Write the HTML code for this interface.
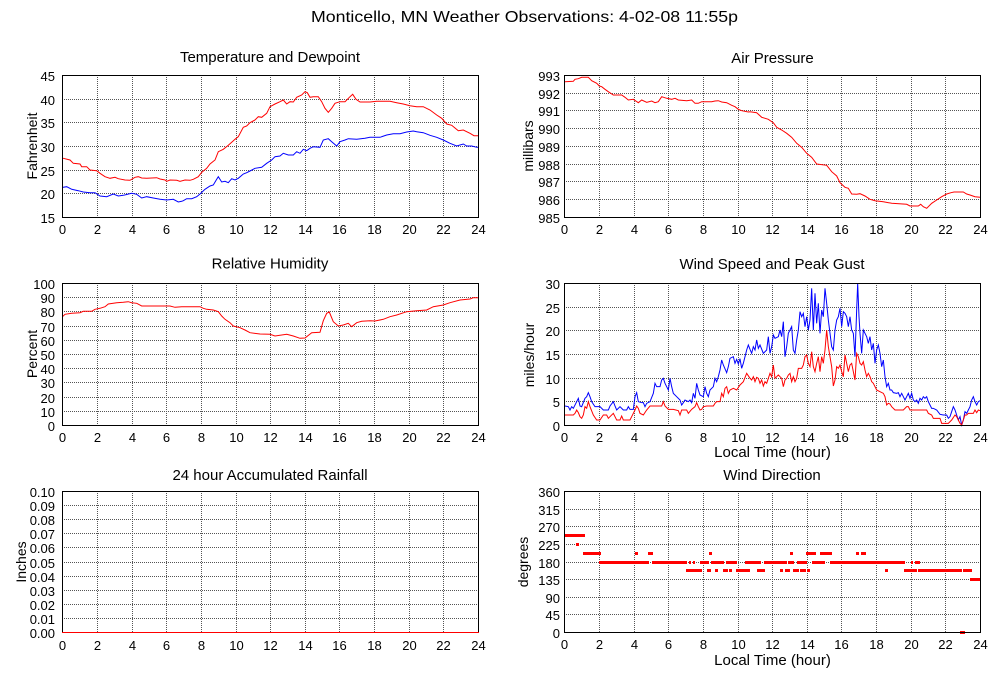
<!DOCTYPE html>
<html><head><meta charset="utf-8"><style>
html,body{margin:0;padding:0;background:#fff;width:1000px;height:680px;overflow:hidden}
svg{display:block}
text{font-family:"Liberation Sans",Arial,Helvetica,sans-serif;fill:#000}
.g{fill:none;stroke:#555;stroke-width:1;stroke-dasharray:1 1;shape-rendering:crispEdges}
.f{fill:none;stroke:#000;stroke-width:1;shape-rendering:crispEdges}
.yl{font-size:13px;text-anchor:end}
.xl{font-size:13px;text-anchor:middle}
.pt{font-size:15px;text-anchor:middle}
.al{font-size:14px;text-anchor:middle}
.r{fill:none;stroke:#f00;stroke-width:1}
.b{fill:none;stroke:#00f;stroke-width:1}
</style></head><body>
<svg width="1000" height="680" viewBox="0 0 1000 680" xmlns="http://www.w3.org/2000/svg">
<rect width="1000" height="680" fill="#fff"/>
<text x="524.5" y="22" font-size="16" text-anchor="middle" textLength="427" lengthAdjust="spacingAndGlyphs">Monticello, MN Weather Observations: 4-02-08 11:55p</text>

<text class="pt" x="270" y="62">Temperature and Dewpoint</text>
<text class="pt" x="772.5" y="63">Air Pressure</text>
<text class="pt" x="270" y="268.5">Relative Humidity</text>
<text class="pt" x="772" y="269">Wind Speed and Peak Gust</text>
<text class="pt" x="270" y="480">24 hour Accumulated Rainfall</text>
<text class="pt" x="772" y="480">Wind Direction</text>

<text class="al" transform="translate(37,146) rotate(-90)">Fahrenheit</text>
<text class="al" transform="translate(533,146) rotate(-90)">millibars</text>
<text class="al" transform="translate(37,354) rotate(-90)">Percent</text>
<text class="al" transform="translate(534,355) rotate(-90)">miles/hour</text>
<text class="al" transform="translate(26,562) rotate(-90)">Inches</text>
<text class="al" transform="translate(528,562) rotate(-90)">degrees</text>
<text x="772.5" y="457" font-size="15" text-anchor="middle">Local Time (hour)</text>
<text x="772.5" y="665" font-size="15" text-anchor="middle">Local Time (hour)</text>

<path class="g" d="M97.5 75V217M132.5 75V217M166.5 75V217M201.5 75V217M236.5 75V217M270.5 75V217M305.5 75V217M339.5 75V217M374.5 75V217M409.5 75V217M443.5 75V217M62 99.5H478M62 122.5H478M62 146.5H478M62 170.5H478M62 193.5H478"/>
<path class="g" d="M599.5 75V217M634.5 75V217M668.5 75V217M703.5 75V217M738.5 75V217M772.5 75V217M807.5 75V217M841.5 75V217M876.5 75V217M911.5 75V217M945.5 75V217M564 93.5H980M564 110.5H980M564 128.5H980M564 146.5H980M564 164.5H980M564 181.5H980M564 199.5H980"/>
<path class="g" d="M97.5 283V425M132.5 283V425M166.5 283V425M201.5 283V425M236.5 283V425M270.5 283V425M305.5 283V425M339.5 283V425M374.5 283V425M409.5 283V425M443.5 283V425M62 297.5H478M62 311.5H478M62 326.5H478M62 340.5H478M62 354.5H478M62 368.5H478M62 382.5H478M62 397.5H478M62 411.5H478"/>
<path class="g" d="M599.5 283V425M634.5 283V425M668.5 283V425M703.5 283V425M738.5 283V425M772.5 283V425M807.5 283V425M841.5 283V425M876.5 283V425M911.5 283V425M945.5 283V425M564 307.5H980M564 330.5H980M564 354.5H980M564 378.5H980M564 401.5H980"/>
<path class="g" d="M97.5 491V632M132.5 491V632M166.5 491V632M201.5 491V632M236.5 491V632M270.5 491V632M305.5 491V632M339.5 491V632M374.5 491V632M409.5 491V632M443.5 491V632M62 505.5H478M62 519.5H478M62 533.5H478M62 547.5H478M62 562.5H478M62 576.5H478M62 590.5H478M62 604.5H478M62 618.5H478"/>
<path class="g" d="M599.5 491V632M634.5 491V632M668.5 491V632M703.5 491V632M738.5 491V632M772.5 491V632M807.5 491V632M841.5 491V632M876.5 491V632M911.5 491V632M945.5 491V632M564 509.5H980M564 526.5H980M564 544.5H980M564 562.5H980M564 579.5H980M564 597.5H980M564 614.5H980"/>

<g>
<text class="yl" x="55" y="81">45</text><text class="yl" x="55" y="105">40</text><text class="yl" x="55" y="128">35</text><text class="yl" x="55" y="152">30</text><text class="yl" x="55" y="176">25</text><text class="yl" x="55" y="199">20</text><text class="yl" x="55" y="223">15</text>
<text class="yl" x="560" y="81">993</text><text class="yl" x="560" y="99">992</text><text class="yl" x="560" y="116">991</text><text class="yl" x="560" y="134">990</text><text class="yl" x="560" y="152">989</text><text class="yl" x="560" y="170">988</text><text class="yl" x="560" y="187">987</text><text class="yl" x="560" y="205">986</text><text class="yl" x="560" y="223">985</text>
<text class="yl" x="55" y="289">100</text><text class="yl" x="55" y="303">90</text><text class="yl" x="55" y="317">80</text><text class="yl" x="55" y="332">70</text><text class="yl" x="55" y="346">60</text><text class="yl" x="55" y="360">50</text><text class="yl" x="55" y="374">40</text><text class="yl" x="55" y="388">30</text><text class="yl" x="55" y="403">20</text><text class="yl" x="55" y="417">10</text><text class="yl" x="55" y="431">0</text>
<text class="yl" x="560" y="289">30</text><text class="yl" x="560" y="313">25</text><text class="yl" x="560" y="336">20</text><text class="yl" x="560" y="360">15</text><text class="yl" x="560" y="384">10</text><text class="yl" x="560" y="407">5</text><text class="yl" x="560" y="431">0</text>
<text class="yl" x="55" y="497">0.10</text><text class="yl" x="55" y="511">0.09</text><text class="yl" x="55" y="525">0.08</text><text class="yl" x="55" y="539">0.07</text><text class="yl" x="55" y="553">0.06</text><text class="yl" x="55" y="568">0.05</text><text class="yl" x="55" y="582">0.04</text><text class="yl" x="55" y="596">0.03</text><text class="yl" x="55" y="610">0.02</text><text class="yl" x="55" y="624">0.01</text><text class="yl" x="55" y="638">0.00</text>
<text class="yl" x="560" y="497">360</text><text class="yl" x="560" y="515">315</text><text class="yl" x="560" y="532">270</text><text class="yl" x="560" y="550">225</text><text class="yl" x="560" y="568">180</text><text class="yl" x="560" y="585">135</text><text class="yl" x="560" y="603">90</text><text class="yl" x="560" y="620">45</text><text class="yl" x="560" y="638">0</text>
</g>

<g>
<text class="xl" x="62.5" y="234">0</text><text class="xl" x="97.5" y="234">2</text><text class="xl" x="132.5" y="234">4</text><text class="xl" x="166.5" y="234">6</text><text class="xl" x="201.5" y="234">8</text><text class="xl" x="236.5" y="234">10</text><text class="xl" x="270.5" y="234">12</text><text class="xl" x="305.5" y="234">14</text><text class="xl" x="339.5" y="234">16</text><text class="xl" x="374.5" y="234">18</text><text class="xl" x="409.5" y="234">20</text><text class="xl" x="443.5" y="234">22</text><text class="xl" x="478.5" y="234">24</text>
</g>
<g transform="translate(502,0)">
<text class="xl" x="62.5" y="234">0</text><text class="xl" x="97.5" y="234">2</text><text class="xl" x="132.5" y="234">4</text><text class="xl" x="166.5" y="234">6</text><text class="xl" x="201.5" y="234">8</text><text class="xl" x="236.5" y="234">10</text><text class="xl" x="270.5" y="234">12</text><text class="xl" x="305.5" y="234">14</text><text class="xl" x="339.5" y="234">16</text><text class="xl" x="374.5" y="234">18</text><text class="xl" x="409.5" y="234">20</text><text class="xl" x="443.5" y="234">22</text><text class="xl" x="478.5" y="234">24</text>
</g>
<g transform="translate(0,208)">
<text class="xl" x="62.5" y="234">0</text><text class="xl" x="97.5" y="234">2</text><text class="xl" x="132.5" y="234">4</text><text class="xl" x="166.5" y="234">6</text><text class="xl" x="201.5" y="234">8</text><text class="xl" x="236.5" y="234">10</text><text class="xl" x="270.5" y="234">12</text><text class="xl" x="305.5" y="234">14</text><text class="xl" x="339.5" y="234">16</text><text class="xl" x="374.5" y="234">18</text><text class="xl" x="409.5" y="234">20</text><text class="xl" x="443.5" y="234">22</text><text class="xl" x="478.5" y="234">24</text>
</g>
<g transform="translate(502,208)">
<text class="xl" x="62.5" y="234">0</text><text class="xl" x="97.5" y="234">2</text><text class="xl" x="132.5" y="234">4</text><text class="xl" x="166.5" y="234">6</text><text class="xl" x="201.5" y="234">8</text><text class="xl" x="236.5" y="234">10</text><text class="xl" x="270.5" y="234">12</text><text class="xl" x="305.5" y="234">14</text><text class="xl" x="339.5" y="234">16</text><text class="xl" x="374.5" y="234">18</text><text class="xl" x="409.5" y="234">20</text><text class="xl" x="443.5" y="234">22</text><text class="xl" x="478.5" y="234">24</text>
</g>
<g transform="translate(0,416)">
<text class="xl" x="62.5" y="234">0</text><text class="xl" x="97.5" y="234">2</text><text class="xl" x="132.5" y="234">4</text><text class="xl" x="166.5" y="234">6</text><text class="xl" x="201.5" y="234">8</text><text class="xl" x="236.5" y="234">10</text><text class="xl" x="270.5" y="234">12</text><text class="xl" x="305.5" y="234">14</text><text class="xl" x="339.5" y="234">16</text><text class="xl" x="374.5" y="234">18</text><text class="xl" x="409.5" y="234">20</text><text class="xl" x="443.5" y="234">22</text><text class="xl" x="478.5" y="234">24</text>
</g>
<g transform="translate(502,415)">
<text class="xl" x="62.5" y="234">0</text><text class="xl" x="97.5" y="234">2</text><text class="xl" x="132.5" y="234">4</text><text class="xl" x="166.5" y="234">6</text><text class="xl" x="201.5" y="234">8</text><text class="xl" x="236.5" y="234">10</text><text class="xl" x="270.5" y="234">12</text><text class="xl" x="305.5" y="234">14</text><text class="xl" x="339.5" y="234">16</text><text class="xl" x="374.5" y="234">18</text><text class="xl" x="409.5" y="234">20</text><text class="xl" x="443.5" y="234">22</text><text class="xl" x="478.5" y="234">24</text>
</g>

<polyline class="r" points="62.5,158 63.3,158.3 70,160 73.3,163.3 80,164 81.7,166.7 86.7,166.7 90,170 96.7,170.7 100,173.3 105,176.7 110,178.3 115,177.3 118.3,178.7 125,180 130,180.3 135,177.3 138.3,176.7 141.7,178 146.7,178.3 156.7,177.7 160,179 165,180 166.7,181.3 170,180 176.7,180.3 180,181.3 185,180 190,180.3 193.3,179.3 198.3,176.7 201.7,172.3 206.7,168.3 210,164 215,160 218.3,151.7 223.3,149.3 228.3,145.3 231.7,142.3 235,139.3 238.3,136.7 243.3,127.3 246.7,126 250,122.7 255,120 258.3,116.7 261.7,117.3 266.7,113.3 270,106.7 275,104 280,101.7 283.3,100 286.7,104 290,101.7 293.3,102 296.7,97.3 301.7,95 305,91.7 307.3,92.7 310,97.3 313.3,96.7 318.3,96.7 321.7,101.7 325,108.3 328.3,112.3 331.7,108.3 335,103.3 340,101.7 345,101.7 350,96.7 352.7,94.3 356,99.3 360,102 370,102 376.7,101.3 390,101.3 396.7,102.7 403.3,104 410,105.7 416.7,106.7 423.3,106.7 430,110 436.7,115 441.7,118.3 446.7,124 451.7,125.3 458.3,130.7 463.3,130 470,133.3 474,135.7 478,135.7"/>
<polyline class="b" points="62.5,187.5 63.3,187.3 66.7,186.7 71.7,189.3 78.3,190.7 83.3,192 90,192.7 95,192.7 100,196 106.7,196.7 113.3,194 118.3,196 123.3,195.3 131.7,193.3 136.7,194.3 141.7,198 146.7,196.7 153.3,198 160,199.3 166.7,200 173.3,199.3 178.3,202 181.7,201.3 183.3,200.7 186.7,198.7 191.7,198.7 196.7,196.7 200,194 205,189.3 210,186 213.3,185 216.7,179.3 218.3,176.7 221.7,182 225,181.3 228.3,182.7 231.7,178.7 235,180 238.3,178.3 243.3,174 246.7,172.7 250,171 255,168.3 261.7,167.3 266.7,163.3 271.7,160 275,156.7 280,156 283.3,153.3 288.3,155 293.3,155 296.7,151.7 300,153.3 303.3,149.3 306.7,150.7 310,148.3 313.3,146.7 320,147.3 323.3,140 328.3,138.7 331.7,141.7 336.7,146 340,141.7 345,140 348.3,138.7 356.7,139.3 365,138.3 370,137.3 380,137.3 386.7,135 393.3,133.7 400,133.7 406.7,132 413.3,131 416.7,131.7 423.3,132.7 430,135.3 436.7,137.3 443.3,140 450,143.3 456.7,146 463.3,144 466.7,146 471.7,146 476.7,147.3 478,147.3"/>

<polyline class="r" points="565,81.7 573.3,81.3 575,79.3 578.3,78.7 581.7,77.3 588.3,77.3 591.7,80.7 596.7,83.3 599.3,86 601.7,86.7 605,89.3 608.3,91.7 613.3,95 621.7,95 625,97.3 628.3,100 633.3,99.3 638.3,102.7 641.7,100 646.7,102.3 651.7,101 655,102.7 658.3,101.7 661.7,96.7 666.7,98.3 671.7,99.3 675,98.3 678.3,100 686.7,100.7 691.7,100 695,103.3 698.3,103.3 701.7,101.7 711.7,101.7 715,101 718.3,100.7 721.7,102 726.7,102.7 731.7,105.3 735,106.7 738.3,109.3 741.7,110.7 748.3,112 750,111.7 756.7,112.7 761.7,117.3 768.3,119.3 773.3,122.7 776.7,127.3 781.7,130 786.7,133.3 791.7,137.3 796.7,143.3 801.7,147.3 806.7,153.3 811.7,157.3 816.7,164 826.7,165.3 831.7,171.7 836.7,176 840,182.7 845,187.3 848.3,188.3 851.7,194 856.7,194.3 860,193.7 865,196 870,199.3 875,200.7 883.3,201.7 891.7,203.3 906.7,204.3 910,206 918.3,206 920.7,204.3 923.3,206.7 926.7,208.3 931.7,203.3 936.7,200 941.7,196.7 946.7,194 951,192.7 954,192 963.3,192 966.7,194 970,195 975,196.7 980,197.3"/>

<polyline class="r" points="62.5,316.7 65,314.3 71.7,313.3 80,312.7 83.3,311.3 91.7,311.3 95,309.3 100,308.3 105,306.7 108.3,304 116.7,302.7 123.3,302.3 128.3,301.7 131.7,302.7 136.7,303.3 141.7,306 150,306 170,306 175,307.3 181.7,306.7 200,306.7 203.3,308.3 206.7,309.3 213.3,310 218.3,311.7 221.7,316 225,319.3 230,322.7 233.3,326 240,327.7 245,330 250,332.7 260,334 270,334.3 275,336 286.7,334.3 293.3,336 300,338.3 305,338 311.7,332.7 320,332.3 323.3,320.7 326.7,313.3 329.3,312 333.3,321.7 338.3,326 343.3,325 348.3,323.3 351.7,326.7 356.7,322.7 361.7,321.3 370,320.7 375,321 383.3,319.3 390,316.7 396.7,315 406.7,311.7 416.7,310.7 426.7,310 433.3,306.7 443.3,305 450,302.7 460,300 470,299 473.3,297.7 478,297.7"/>

<g transform="translate(500,250) scale(0.333333)">
<polyline class="b" vector-effect="non-scaling-stroke" points="195,468 205,470 210,480 215,470 220,475 230,455 235,445 240,468 245,470 255,445 260,440 265,428 270,440 275,455 285,470 300,470 310,480 325,480 330,468 340,455 345,468 350,480 360,470 370,480 380,480 385,470 390,478 400,478 405,440 410,428 415,455 425,458 430,458 435,470 440,460 450,455 460,430 465,400 470,410 480,410 485,390 490,385 495,400 500,410 505,420 510,385 515,410 520,430 530,440 540,450 545,465 550,458 555,450 565,455 570,450 575,458 580,430 585,445 590,400 595,420 600,435 610,440 615,410 620,430 625,440 630,420 640,410 645,385 650,395 655,380 660,360 665,330 670,345 680,368 685,350 690,325 700,320 705,340 710,328 715,342 720,326 725,355 730,340 740,300 745,285 750,298"/>
<polyline class="r" vector-effect="non-scaling-stroke" points="195,495 220,495 225,490 230,480 235,488 240,500 245,505 250,495 255,470 260,475 265,455 270,470 280,495 290,510 300,510 310,495 320,495 325,505 340,490 345,500 350,510 360,510 365,498 370,510 390,510 400,490 405,480 410,468 415,475 420,490 430,495 440,480 450,468 470,468 485,468 490,455 495,468 505,478 520,478 535,482 540,495 545,480 560,480 565,490 575,478 585,470 590,458 595,470 600,480 605,478 610,470 620,468 640,468 645,460 650,455 660,455 665,430 670,440 675,415 680,410 685,430 690,420 700,415 710,420 720,405 730,395 740,370 750,385"/>
</g>
<g transform="translate(750,250) scale(0.333333)">
<polyline class="b" vector-effect="non-scaling-stroke" points="0,298 5,310 10,290 15,300 20,270 25,295 30,285 40,310 50,300 55,260 60,310 65,290 70,255 75,265 85,260 90,240 95,260 100,215 105,320 110,290 115,250 120,240 125,230 130,300 135,310 140,270 145,240 150,185 155,200 160,190 165,230 170,200 175,240 180,210 185,115 190,240 195,130 200,220 205,160 210,250 215,180 220,200 225,115 230,160 235,210 240,250 245,290 250,300 255,240 260,210 265,200 270,175 275,230 280,185 285,190 290,200 295,230 300,200 305,240 310,250 315,320 320,180 323,100 327,200 330,250 335,310 340,240 345,250 350,260 355,280 360,260 365,300 370,280 375,340 380,300 385,285 390,310 395,350 400,330 405,380 410,410 415,400 420,420 425,420 430,428 440,430 445,428 450,440 455,430 460,440 465,450 470,440 475,430 480,445 485,430 490,450 495,455 500,450 505,460 510,445 515,450 520,440 525,445 530,440 535,455 540,465 545,475 550,475 560,480 570,493 580,495 590,495 595,505 600,500 605,485 610,470 615,480 620,495 625,510 630,500 635,525 640,510 645,485 650,490 655,480 660,470 665,450 670,440 675,455 680,465 685,455 690,452"/>
<polyline class="r" vector-effect="non-scaling-stroke" points="0,385 5,390 10,380 15,395 20,382 25,385 30,400 35,390 40,408 45,395 50,400 55,385 60,370 65,380 70,345 75,385 80,380 85,375 90,380 95,385 100,410 105,390 110,385 115,375 120,370 125,395 130,380 135,395 140,385 145,355 155,355 160,345 165,320 170,315 175,340 180,350 185,305 190,350 195,365 200,340 205,320 210,365 215,320 220,340 225,300 230,240 235,290 240,320 245,350 250,408 255,390 260,350 265,355 270,345 275,365 280,380 285,315 290,340 295,365 300,345 305,340 310,365 315,390 320,310 325,320 330,340 335,345 340,335 345,360 350,380 355,370 360,380 365,395 370,400 375,410 380,420 390,425 400,430 405,440 410,465 415,460 420,462 425,470 435,480 460,480 470,470 475,470 480,480 500,480 520,480 530,480 535,490 545,495 550,505 570,505 575,520 595,520 605,510 615,495 620,500 625,510 630,520 635,525 640,510 645,495 650,495 655,490 670,490 675,480 680,488 685,480 690,482"/>
</g>

<g fill="#f00" shape-rendering="crispEdges">
<rect x="565" y="534" width="20" height="3"/>
<rect x="576" y="543" width="3" height="3"/>
<rect x="583" y="552" width="18" height="3"/><rect x="635" y="552" width="3" height="3"/><rect x="648" y="552" width="5" height="3"/><rect x="709" y="552" width="3" height="3"/><rect x="790" y="552" width="3" height="3"/><rect x="806" y="552" width="10" height="3"/><rect x="820" y="552" width="12" height="3"/><rect x="856" y="552" width="3" height="3"/><rect x="861" y="552" width="5" height="3"/>
<rect x="599" y="561" width="50" height="3"/><rect x="652" y="561" width="35" height="3"/><rect x="689" y="561" width="2" height="3"/><rect x="693" y="561" width="2" height="3"/><rect x="700" y="561" width="9" height="3"/><rect x="711" y="561" width="13" height="3"/><rect x="726" y="561" width="11" height="3"/><rect x="745" y="561" width="16" height="3"/><rect x="764" y="561" width="23" height="3"/><rect x="788" y="561" width="6" height="3"/><rect x="797" y="561" width="10" height="3"/><rect x="812" y="561" width="13" height="3"/><rect x="830" y="561" width="75" height="3"/><rect x="911" y="561" width="2" height="3"/><rect x="915" y="561" width="5" height="3"/>
<rect x="686" y="569" width="16" height="3"/><rect x="707" y="569" width="4" height="3"/><rect x="715" y="569" width="3" height="3"/><rect x="723" y="569" width="5" height="3"/><rect x="729" y="569" width="3" height="3"/><rect x="736" y="569" width="14" height="3"/><rect x="757" y="569" width="8" height="3"/><rect x="780" y="569" width="3" height="3"/><rect x="785" y="569" width="5" height="3"/><rect x="793" y="569" width="6" height="3"/><rect x="800" y="569" width="6" height="3"/><rect x="807" y="569" width="3" height="3"/><rect x="885" y="569" width="3" height="3"/><rect x="904" y="569" width="13" height="3"/><rect x="918" y="569" width="44" height="3"/><rect x="963" y="569" width="9" height="3"/>
<rect x="970" y="578" width="10" height="3"/>
<rect x="960" y="631" width="5" height="3"/>
</g>

<rect class="f" x="62.5" y="75.5" width="416" height="142"/>
<rect class="f" x="564.5" y="75.5" width="416" height="142"/>
<rect class="f" x="62.5" y="283.5" width="416" height="142"/>
<rect class="f" x="564.5" y="283.5" width="416" height="142"/>
<rect class="f" x="62.5" y="491.5" width="416" height="141"/>
<rect class="f" x="564.5" y="491.5" width="416" height="141"/>

<line x1="62" y1="632.5" x2="479" y2="632.5" stroke="#f00" stroke-width="1" shape-rendering="crispEdges"/>
</svg>
</body></html>
